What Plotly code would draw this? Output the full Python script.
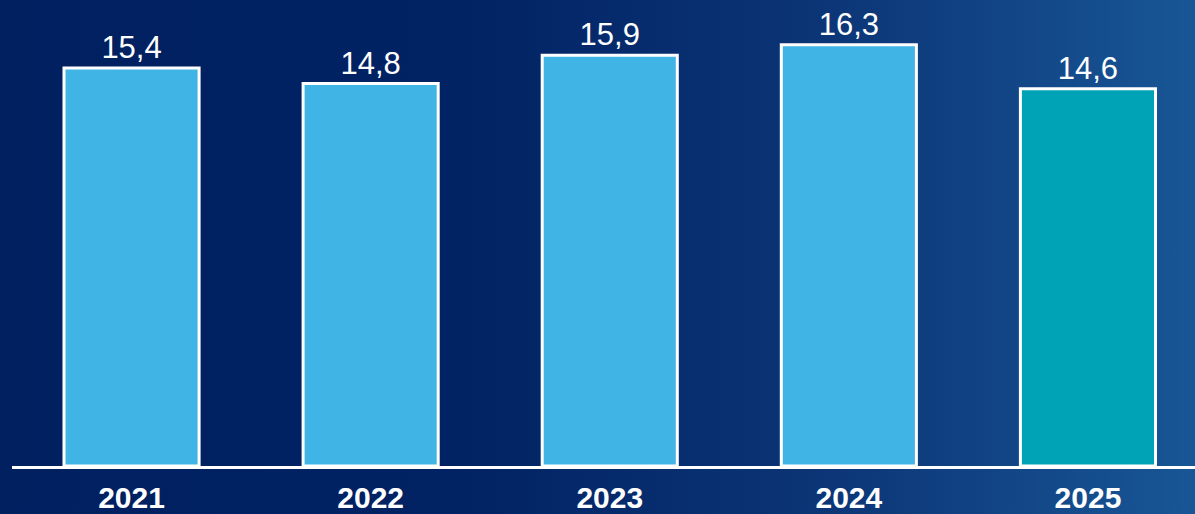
import base64
import plotly.graph_objects as go

years = ["2021", "2022", "2023", "2024", "2025"]
values = [15.4, 14.8, 15.9, 16.3, 14.6]
bar_colors = ["#41b4e6", "#41b4e6", "#41b4e6", "#41b4e6", "#00a2b6"]

W, H = 1195, 514
ML, MB, MT, MR = 12, 48, 0, 0
plot_w = W - ML - MR
plot_h = H - MT - MB

svg = f'''<svg xmlns="http://www.w3.org/2000/svg" width="{W}" height="{H}" preserveAspectRatio="none">
<defs><linearGradient id="g" x1="0" y1="0" x2="1" y2="0">
<stop offset="0" stop-color="#002060"/>
<stop offset="0.38" stop-color="#012263"/>
<stop offset="0.7" stop-color="#0c3677"/>
<stop offset="1" stop-color="#185696"/>
</linearGradient></defs>
<rect width="{W}" height="{H}" fill="url(#g)"/></svg>'''
src = "data:image/svg+xml;base64," + base64.b64encode(svg.encode()).decode()

fig = go.Figure(go.Bar(
    x=years, y=values,
    marker=dict(color=bar_colors, line=dict(color="white", width=3)),
    width=0.565,
    texttemplate="%{y:.1f}", textposition="outside",
    constraintext="none",
    textfont=dict(color="white", size=31, family="Liberation Sans, Arial"),
    cliponaxis=False,
))

fig.update_layout(
    width=W, height=H,
    margin=dict(l=ML, r=MR, t=MT, b=MB, pad=0),
    paper_bgcolor="#002060", plot_bgcolor="rgba(0,0,0,0)",
    separators=", ",
    showlegend=False,
    images=[dict(source=src, xref="paper", yref="paper",
                 x=-ML / plot_w, y=1 + MT / plot_h,
                 sizex=W / plot_w, sizey=H / plot_h,
                 xanchor="left", yanchor="top", sizing="stretch", layer="below")],
    xaxis=dict(range=[-0.5, -0.5 + plot_w / 239.1], showgrid=False, zeroline=False,
               showline=True, linecolor="white", linewidth=3, ticks="",
               ticklabelstandoff=3,
               tickfont=dict(color="white", size=30, family="Liberation Sans, Arial", weight="bold")),
    yaxis=dict(range=[0, plot_h / 25.84], visible=False),
)

fig.write_html("out.html", config={"displayModeBar": False},
               post_script="document.body.style.margin='0';document.body.style.overflow='hidden';")
